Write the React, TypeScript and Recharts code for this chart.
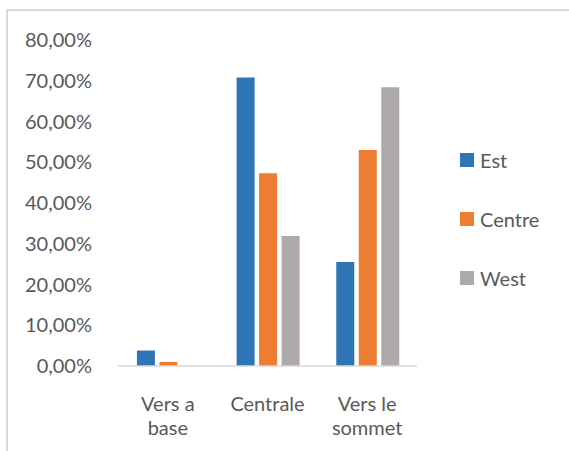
import { BarChart, Bar, XAxis, YAxis, Legend } from "recharts";

const categories = ["Vers a\nbase", "Centrale", "Vers le\nsommet"];
const seriesNames = ["Est", "Centre", "West"];
const est = [3.8, 70.8, 25.5];
const centre = [1.0, 47.3, 53.0];
const west = [0, 31.9, 68.4];
const yTicks = [0, 10, 20, 30, 40, 50, 60, 70, 80];

const data = categories.map((name, i) => ({
  name,
  Est: est[i],
  Centre: centre[i],
  West: west[i],
}));

const FONT = "Lato, 'Open Sans', sans-serif";
const TEXT = "#595959";

const fmt = (v: number) => v.toFixed(2).replace(".", ",") + "%";

const CategoryTick = ({ x, y, payload }: any) => {
  const lines = String(payload.value).split("\n");
  return (
    <text x={x} y={y + 45} textAnchor="middle" fill={TEXT} fontSize={20} fontFamily={FONT}>
      {lines.map((l, i) => (
        <tspan key={i} x={x} dy={i === 0 ? 0 : 24}>
          {l}
        </tspan>
      ))}
    </text>
  );
};

// keep legend in series order (recharts sorts it by name otherwise)
const renderLegend = ({ payload }: any) => {
  const items = [...(payload || [])].sort(
    (a: any, b: any) => seriesNames.indexOf(a.value) - seriesNames.indexOf(b.value)
  );
  return (
    <div style={{ fontFamily: FONT, fontSize: 20, color: TEXT }}>
      {items.map((p: any) => (
        <div key={p.value} style={{ display: "flex", alignItems: "center", height: 59 }}>
          <span style={{ width: 14, height: 14, background: p.color, marginRight: 6, display: "inline-block" }} />
          <span>{p.value}</span>
        </div>
      ))}
    </div>
  );
};

export default function App() {
  return (
    <div style={{ position: "absolute", left: 0, top: 0, width: 569, height: 451, overflow: "hidden", background: "#fff" }}>
      <div
        style={{
          position: "absolute",
          left: 6,
          top: 9,
          width: 640,
          height: 520,
          border: "2px solid #D9D9D9",
        }}
      />
      <BarChart
        width={569}
        height={451}
        data={data}
        margin={{ top: 40, right: 152, left: 0, bottom: 0 }}
        barCategoryGap="19%"
        barGap={4.5}
        style={{ position: "absolute", left: 0, top: 0 }}
      >
        <XAxis
          dataKey="name"
          tick={<CategoryTick />}
          tickLine={false}
          tickSize={0}
          tickMargin={0}
          axisLine={{ stroke: "#D9D9D9", strokeWidth: 1.5 }}
          height={85}
          interval={0}
        />
        <YAxis
          width={118}
          domain={[0, 80]}
          ticks={yTicks}
          tickFormatter={fmt}
          axisLine={false}
          tickLine={false}
          tickSize={0}
          tickMargin={26}
          tick={{ fill: TEXT, fontSize: 20, fontFamily: FONT }}
        />
        <Legend
          layout="vertical"
          align="center"
          verticalAlign="middle"
          content={renderLegend}
          wrapperStyle={{ left: 460, top: 130, width: 100 }}
        />
        <Bar dataKey="Est" fill="#2E75B6" isAnimationActive={false} />
        <Bar dataKey="Centre" fill="#ED7D31" isAnimationActive={false} />
        <Bar dataKey="West" fill="#AEAAAA" isAnimationActive={false} />
      </BarChart>
    </div>
  );
}
